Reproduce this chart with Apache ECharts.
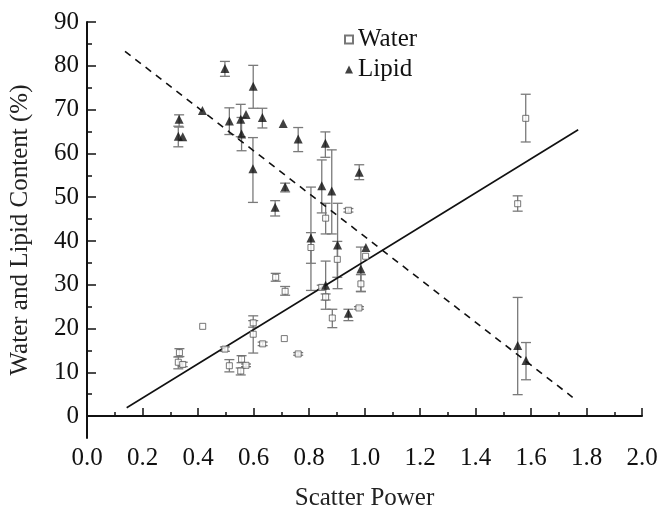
<!DOCTYPE html>
<html>
<head>
<meta charset="utf-8">
<script src="https://cdn.jsdelivr.net/npm/echarts@6/dist/echarts.min.js"></script>
<style>
  html, body { margin: 0; padding: 0; background: #fff; }
  #chart { width: 672px; height: 516px; }
</style>
</head>
<body>
<div id="chart"></div>
<script>
  // water points (scatter power, %), with error bar ends (null = no bar)
  var waterX    = [0.329, 0.333, 0.345, 0.417, 0.497, 0.513, 0.554, 0.557, 0.573, 0.599, 0.599, 0.633, 0.680, 0.711, 0.714, 0.761, 0.807, 0.846, 0.860, 0.860, 0.884, 0.902, 0.942, 0.980, 0.987, 1.004, 1.552, 1.581];
  var waterY    = [12.3, 14.5, 11.8, 20.5, 15.3, 11.5, 10.3, 13.0, 11.6, 21.3, 18.7, 16.5, 31.7, 17.7, 28.5, 14.2, 38.5, 29.4, 45.2, 27.2, 22.4, 35.8, 47.0, 24.7, 30.2, 36.5, 48.5, 68.0];
  var waterLow  = [10.8, 13.6, 11.3, null, 14.8, 10.1, 9.4, 12.2, 11.3, 20.3, 14.4, 16.1, 30.8, null, 27.6, 13.9, 34.9, 28.9, 41.6, 26.5, 20.2, 31.7, 46.6, 24.4, 28.4, null, 46.8, 62.6];
  var waterHigh = [13.5, 15.4, 12.3, null, 15.8, 12.9, 11.0, 13.8, 11.9, 22.9, 21.8, 16.9, 32.6, null, 29.6, 14.5, 41.9, 29.9, 48.6, 27.9, 24.4, 39.9, 47.4, 25.0, 32.3, null, 50.3, 73.5];

  // lipid points
  var lipidX    = [0.329, 0.345, 0.332, 0.416, 0.497, 0.513, 0.554, 0.557, 0.573, 0.599, 0.598, 0.632, 0.678, 0.707, 0.714, 0.761, 0.807, 0.846, 0.859, 0.860, 0.882, 0.903, 0.942, 0.981, 0.987, 1.005, 1.552, 1.582];
  var lipidY    = [63.9, 63.8, 67.8, 69.8, 79.4, 67.4, 67.8, 64.4, 68.9, 75.3, 56.5, 68.2, 47.7, 66.8, 52.4, 63.3, 40.7, 52.6, 62.3, 29.9, 51.4, 39.1, 23.5, 55.7, 33.6, 38.5, 16.1, 12.7];
  var lipidLow  = [61.5, null, 66.0, null, 77.6, 64.3, 63.8, 60.6, null, 70.3, 48.8, 65.8, 45.7, null, 51.2, 60.4, 28.7, 46.4, 59.1, 24.4, 41.6, 29.1, 21.8, 54.0, 28.5, null, 4.9, 8.3];
  var lipidHigh = [66.2, null, 68.8, null, 81.0, 70.4, 71.2, 68.2, null, 80.1, 63.6, 70.3, 49.2, null, 53.2, 65.9, 52.3, 58.5, 64.9, 35.4, 60.8, 48.6, 24.4, 57.4, 38.6, null, 27.1, 16.8];

  // fitted lines, end points
  var lipidFit = [[0.137, 83.3], [1.75, 4.3]];
  var waterFit = [[0.143, 1.9], [1.77, 65.4]];

  var yTicks = [0, 10, 20, 30, 40, 50, 60, 70, 80, 90];
  var yMinorTicks = [5, 15, 25, 35, 45, 55, 65, 75, 85];

  var FONT = 'Liberation Serif';

  function pairs(xs, ys) {
    var out = [];
    for (var i = 0; i < xs.length; i++) out.push([xs[i], ys[i]]);
    return out;
  }
  function bars(xs, lo, hi) {
    var out = [];
    for (var i = 0; i < xs.length; i++) {
      if (lo[i] != null) out.push([xs[i], lo[i], hi[i]]);
    }
    return out;
  }
  function renderBar(params, api) {
    var top = api.coord([api.value(0), api.value(2)]);
    var bot = api.coord([api.value(0), api.value(1)]);
    var w = 5;
    var style = { stroke: '#7a7a7a', lineWidth: 1.3 };
    return {
      type: 'group',
      children: [
        { type: 'line', shape: { x1: top[0], y1: top[1], x2: bot[0], y2: bot[1] }, style: style },
        { type: 'line', shape: { x1: top[0] - w, y1: top[1], x2: top[0] + w, y2: top[1] }, style: style },
        { type: 'line', shape: { x1: bot[0] - w, y1: bot[1], x2: bot[0] + w, y2: bot[1] }, style: style }
      ]
    };
  }

  var chart = echarts.init(document.getElementById('chart'));
  var option = {
    backgroundColor: '#fff',
    animation: false,
    grid: { left: 87, right: 30, top: 22, bottom: 69 },
    legend: {
      data: ['Water', 'Lipid'],
      orient: 'vertical',
      left: 344,
      top: 27,
      padding: 0,
      itemWidth: 8,
      itemHeight: 8,
      itemGap: 5,
      textStyle: { fontFamily: FONT, fontSize: 25, color: '#111' }
    },
    xAxis: {
      type: 'value',
      min: 0,
      max: 2,
      interval: 0.2,
      name: 'Scatter Power',
      nameLocation: 'middle',
      nameGap: 48,
      nameTextStyle: { fontFamily: FONT, fontSize: 25, color: '#222' },
      axisLine: { lineStyle: { color: '#111', width: 2 } },
      axisTick: { inside: true, length: 8, lineStyle: { color: '#111', width: 1.5 } },
      minorTick: { show: true, splitNumber: 2, length: 4, lineStyle: { color: '#111', width: 1.5 } },
      axisLabel: {
        margin: 8,
        fontFamily: FONT,
        fontSize: 25,
        color: '#111',
        formatter: function (v) { return v.toFixed(1); }
      },
      splitLine: { show: false }
    },
    yAxis: [{
      type: 'value',
      min: -5,
      max: 90,
      name: 'Water and Lipid Content (%)',
      nameLocation: 'middle',
      nameGap: 54,
      nameTextStyle: { fontFamily: FONT, fontSize: 25, color: '#222' },
      axisLine: { show: true, lineStyle: { color: '#111', width: 2 } },
      axisTick: { inside: true, length: 9, customValues: yTicks, lineStyle: { color: '#111', width: 1.5 } },
      axisLabel: { margin: 8, customValues: yTicks, fontFamily: FONT, fontSize: 25, color: '#111' },
      splitLine: { show: false }
    }, {
      type: 'value',
      min: -5,
      max: 90,
      position: 'left',
      axisLine: { show: false },
      axisTick: { show: true, inside: true, length: 5, customValues: yMinorTicks, lineStyle: { color: '#111', width: 1.5 } },
      axisLabel: { show: false },
      splitLine: { show: false }
    }],
    series: [
      {
        name: 'waterBars',
        type: 'custom',
        renderItem: renderBar,
        data: bars(waterX, waterLow, waterHigh),
        z: 1
      },
      {
        name: 'lipidBars',
        type: 'custom',
        renderItem: renderBar,
        data: bars(lipidX, lipidLow, lipidHigh),
        z: 1
      },
      {
        name: 'lipidFit',
        type: 'line',
        data: lipidFit,
        symbol: 'none',
        lineStyle: { color: '#111', width: 1.6, type: [7, 6] },
        z: 2
      },
      {
        name: 'waterFit',
        type: 'line',
        data: waterFit,
        symbol: 'none',
        lineStyle: { color: '#111', width: 1.6 },
        z: 2
      },
      {
        name: 'Water',
        type: 'scatter',
        symbol: 'rect',
        symbolSize: 6,
        itemStyle: { color: '#fff', borderColor: '#555', borderWidth: 1 },
        data: pairs(waterX, waterY),
        z: 3
      },
      {
        name: 'Lipid',
        type: 'scatter',
        symbol: 'triangle',
        symbolSize: 9,
        itemStyle: { color: '#111' },
        data: pairs(lipidX, lipidY),
        z: 3
      }
    ]
  };
  chart.setOption(option);
</script>
</body>
</html>
